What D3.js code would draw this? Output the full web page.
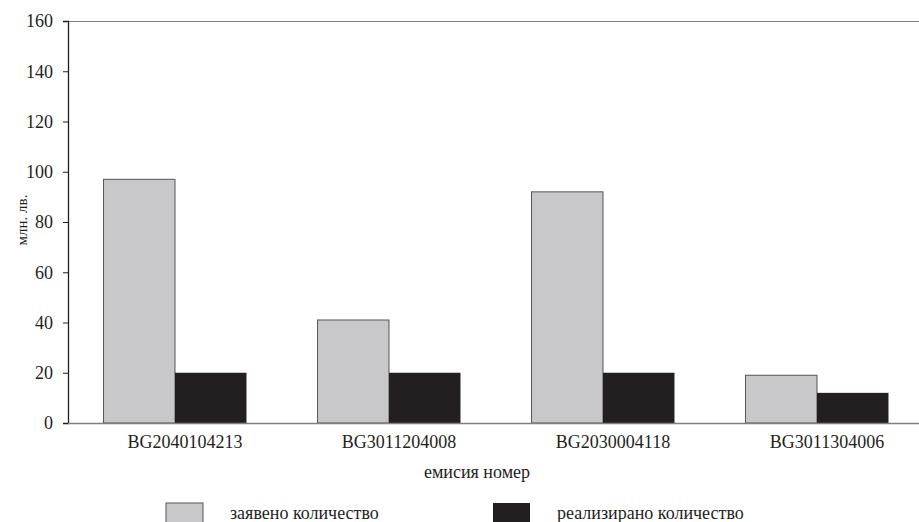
<!DOCTYPE html>
<html><head><meta charset="utf-8">
<script src="https://cdn.jsdelivr.net/npm/d3@7"></script>
<style>body{margin:0;background:#fff}</style>
</head><body><svg id="c" width="919" height="522"></svg>
<script>
const categories = ["BG2040104213","BG3011204008","BG2030004118","BG3011304006"];
const seriesNames = ["заявено количество","реализирано количество"];
const declared = [97, 41, 92, 19];
const realized = [20, 20, 20, 12];
const yTicks = [0,20,40,60,80,100,120,140,160];
const colors = ["#c8c8ca","#231f20"];
const FONT = "'Liberation Serif', 'Times New Roman', serif";

const svg = d3.select("#c");
const L = 68, R = 924, T = 21, B = 423;
const x0 = d3.scaleBand().domain(categories).range([L, R]).padding(0);
const bw = x0.bandwidth();
const x1 = d3.scaleBand().domain([0,1]).range([bw*0.166, bw*0.834]).padding(0);
const y = d3.scaleLinear().domain([0,160]).range([B, T]);

svg.append("line").attr("x1",L).attr("x2",919).attr("y1",y(160)+0.5).attr("y2",y(160)+0.5)
  .attr("stroke","#808080").attr("stroke-width",1.2);

const series = [declared, realized];
categories.forEach((c,i)=>{
  series.forEach((s,j)=>{
    svg.append("rect")
      .attr("x", x0(c)+x1(j)).attr("width", x1.bandwidth())
      .attr("y", y(s[i])).attr("height", y(0)-y(s[i]))
      .attr("fill", colors[j])
      .attr("stroke", j===0 ? "#555" : "none").attr("stroke-width",1);
  });
});

const ya = svg.append("g").attr("transform",`translate(${L},0)`)
  .call(d3.axisLeft(y).tickValues(yTicks).tickSize(5).tickPadding(10));
ya.select(".domain").attr("stroke","#231f20").attr("stroke-width",1.3);
ya.selectAll(".tick line").attr("stroke","#231f20");
ya.selectAll("text").attr("font-size",18);

const xa = svg.append("g").attr("transform",`translate(10,${B})`)
  .call(d3.axisBottom(x0).tickSize(0).tickPadding(12));
xa.select(".domain").remove();
xa.selectAll("text").attr("font-size",18);
svg.append("line").attr("x1",L).attr("x2",919).attr("y1",B+0.5).attr("y2",B+0.5)
  .attr("stroke","#808080").attr("stroke-width",1.3);

svg.append("text").attr("transform","translate(27,220) rotate(-90)").attr("text-anchor","middle")
  .attr("font-size",15).text("млн. лв.");
svg.append("text").attr("x",477).attr("y",478).attr("text-anchor","middle")
  .attr("font-size",18).text("емисия номер");

const legX = [166, 493];
seriesNames.forEach((n,j)=>{
  svg.append("rect").attr("x",legX[j]).attr("y",503).attr("width",37).attr("height",22)
    .attr("fill",colors[j]).attr("stroke", j===0?"#555":"none");
  svg.append("text").attr("x",legX[j]+64).attr("y",519).attr("font-size",18).text(n);
});

svg.selectAll("text").style("font-family", FONT).style("fill","#231f20");
</script></body></html>
